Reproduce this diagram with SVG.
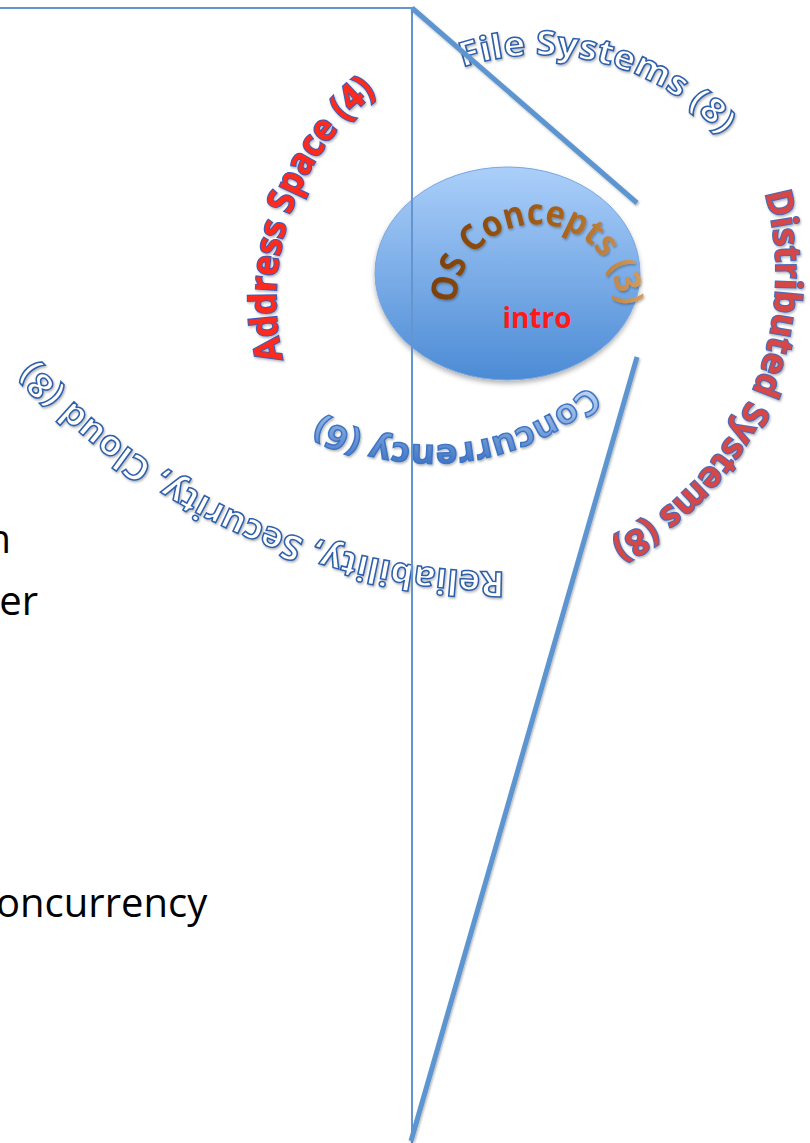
<svg xmlns="http://www.w3.org/2000/svg" width="810" height="1143" viewBox="0 0 810 1143">
  <style>
    .lbl { font-family: "Open Sans", "Noto Sans", "DejaVu Sans", sans-serif; font-weight: bold; }
    .outline { fill: #ffffff; stroke: #2f5fa9; stroke-width: 1.5; }
    .redtxt { fill: #ff2a1c; stroke: #3c5cb8; stroke-width: 2.2; paint-order: stroke fill; }
    .redsoft { fill: #d64646; stroke: #4a6ab8; stroke-width: 2.2; paint-order: stroke fill; }
    .body { font-family: "Open Sans", "Noto Sans", sans-serif; font-size: 40px; fill: #000; }
    .thin { stroke: #6495cf; stroke-width: 2; fill: none; }
    .thick { stroke: #5d95d0; stroke-width: 5; fill: none; stroke-linecap: butt; }
  </style>
  <defs>
    <linearGradient id="ovalFill" x1="0" y1="0" x2="0" y2="1">
      <stop offset="0" stop-color="#abcffa"/>
      <stop offset="1" stop-color="#4c8bd5"/>
    </linearGradient>
    <linearGradient id="brown" gradientUnits="userSpaceOnUse" x1="430" y1="0" x2="650" y2="0">
      <stop offset="0" stop-color="#7c3f07"/>
      <stop offset="0.6" stop-color="#a8621a"/>
      <stop offset="1" stop-color="#d7a266"/>
    </linearGradient>
    <linearGradient id="concFill" gradientUnits="userSpaceOnUse" x1="0" y1="390" x2="0" y2="468">
      <stop offset="0" stop-color="#bdd5f4"/>
      <stop offset="1" stop-color="#3a70c2"/>
    </linearGradient>
    <filter id="soft" x="-10%" y="-10%" width="120%" height="130%">
      <feDropShadow dx="1" dy="1.5" stdDeviation="1" flood-color="#000" flood-opacity="0.3"/>
    </filter>
    <filter id="ovalShadow" x="-10%" y="-10%" width="120%" height="130%">
      <feDropShadow dx="0" dy="3" stdDeviation="2.5" flood-color="#000" flood-opacity="0.3"/>
    </filter>
    <!-- baselines for the ring labels (all run clockwise) -->
    <path id="pFile" d="M462.7,67.5 A245,245 0 0 1 752.2,177.5"/>
    <path id="pAddr" d="M282.8,359.4 A264,264 0 0 1 408,71.4"/>
    <path id="pDist" d="M764.9,193.1 A301,301 0 0 1 568,560.3"/>
    <path id="pOS" d="M456,303.6 A81,81 0 1 1 617.7,312.1"/>
    <path id="pConc" d="M589,385.2 A236,236 0 0 1 296.6,402.3"/>
    <path id="pRel" d="M504.8,572 A636,636 0 0 1 5.8,327.6"/>
  </defs>

  <rect width="810" height="1143" fill="#ffffff"/>

  <!-- body text fragments -->
  <g id="body-text">
    <text class="body" x="11" y="553" text-anchor="end">n</text>
    <text class="body" x="38" y="615" text-anchor="end">er</text>
    <text class="body" x="-4" y="917">oncurrency</text>
  </g>

  <!-- central node -->
  <g id="os-concepts">
    <ellipse cx="507.5" cy="273.5" rx="132.5" ry="106.5" fill="url(#ovalFill)" stroke="#7aa6dd" stroke-width="1" filter="url(#ovalShadow)"/>
    <text class="lbl" font-size="36" fill="url(#brown)" filter="url(#soft)">
      <textPath href="#pOS" textLength="252" lengthAdjust="spacingAndGlyphs">OS Concepts (3)</textPath>
    </text>
    <text class="lbl" x="537" y="328" font-size="28" fill="#ff1a1a" text-anchor="middle">intro</text>
  </g>

  <!-- ring topics -->
  <g id="file-systems">
    <text class="lbl outline" font-size="34" filter="url(#soft)">
      <textPath href="#pFile" textLength="283" lengthAdjust="spacingAndGlyphs">File Systems (8)</textPath>
    </text>
  </g>
  <g id="address-space">
    <text class="lbl redtxt" font-size="37" filter="url(#soft)">
      <textPath href="#pAddr" textLength="298" lengthAdjust="spacingAndGlyphs">Address Space (4)</textPath>
    </text>
  </g>
  <g id="distributed-systems">
    <text class="lbl redsoft" font-size="36" filter="url(#soft)">
      <textPath href="#pDist" textLength="413" lengthAdjust="spacingAndGlyphs">Distributed Systems (8)</textPath>
    </text>
  </g>
  <g id="concurrency">
    <text class="lbl" font-size="34" fill="url(#concFill)" stroke="#3d74c4" stroke-width="1.4" filter="url(#soft)">
      <textPath href="#pConc" textLength="288" lengthAdjust="spacingAndGlyphs">Concurrency (6)</textPath>
    </text>
  </g>
  <g id="reliability">
    <text class="lbl outline" font-size="35" filter="url(#soft)">
      <textPath href="#pRel" textLength="532" lengthAdjust="spacingAndGlyphs">Reliability, Security, Cloud (8)</textPath>
    </text>
  </g>

  <!-- connectors -->
  <g id="connectors">
    <polyline class="thin" points="0,8 412,8 412,1143"/>
    <line class="thick" x1="412" y1="8" x2="637" y2="203" filter="url(#soft)"/>
    <line class="thick" x1="637" y1="357" x2="411" y2="1141" filter="url(#soft)"/>
  </g>
</svg>
